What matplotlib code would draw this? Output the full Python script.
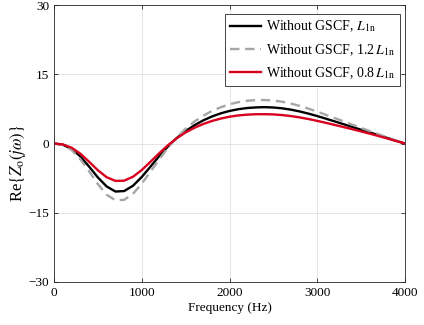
import numpy as np
from matplotlib import pyplot as plt

plt.rcParams['font.family'] = ['Liberation Serif', 'DejaVu Serif']
plt.rcParams['mathtext.fontset'] = 'stix'

# frequency grid (Hz)
freq = np.arange(0, 4001, 100)

re_L = [0, -0.25, -1.15, -2.8, -5.0, -7.35, -9.3, -10.4, -10.3, -9.15,
        -7.25, -5.0, -2.7, -0.6, 1.2, 2.7, 3.95, 5.0, 5.85, 6.53,
        7.05, 7.43, 7.68, 7.82, 7.87, 7.80, 7.62, 7.33, 6.94, 6.47,
        5.94, 5.37, 4.78, 4.18, 3.58, 2.98, 2.38, 1.78, 1.18, 0.59, 0]

re_12L = [0, -0.3, -1.4, -3.4, -6.0, -8.8, -11.1, -12.3, -12.2, -10.9,
          -8.7, -6.1, -3.4, -0.9, 1.3, 3.2, 4.75, 6.0, 7.05, 7.85,
          8.5, 8.95, 9.25, 9.4, 9.42, 9.3, 9.05, 8.65, 8.15, 7.55,
          6.9, 6.2, 5.5, 4.8, 4.08, 3.38, 2.68, 2.0, 1.32, 0.66, 0]

re_08L = [0, -0.2, -0.9, -2.2, -3.95, -5.8, -7.3, -8.1, -8.05, -7.2,
          -5.75, -3.95, -2.1, -0.35, 1.15, 2.4, 3.4, 4.22, 4.88, 5.4,
          5.8, 6.08, 6.25, 6.34, 6.35, 6.3, 6.16, 5.94, 5.65, 5.3,
          4.9, 4.47, 4.02, 3.56, 3.09, 2.61, 2.12, 1.61, 1.08, 0.54, 0]

labels = ['Without GSCF, $L_{\\rm 1n}$',
          'Without GSCF, 1.2$\\,L_{\\rm 1n}$',
          'Without GSCF, 0.8$\\,L_{\\rm 1n}$']

fig = plt.figure(figsize=(4.24, 3.25), dpi=100)
ax = fig.add_axes([54/424, 1-282/325, 351/424, 277/325])

ax.plot(freq, re_L, color='black', lw=1.7, label=labels[0])
ax.plot(freq, re_12L, color=(0.65, 0.65, 0.65), lw=1.7, ls=(0, (4, 2.4)), label=labels[1])
ax.plot(freq, re_08L, color=(0.85, 0.0, 0.12), lw=1.7, label=labels[2])

ax.set_xlim(0, 4000)
ax.set_ylim(-30, 30)
ax.set_xticks([0, 1000, 2000, 3000, 4000])
ax.set_yticks([-30, -15, 0, 15, 30])
ax.tick_params(direction='in', length=3, width=0.6, labelsize=9.5,
               top=True, right=True, colors=(0.15, 0.15, 0.15), labelcolor='black')
ax.grid(True, color=(0.88, 0.88, 0.88), lw=0.6)
for s in ax.spines.values():
    s.set_linewidth(0.6)
    s.set_color((0.15, 0.15, 0.15))

ax.set_xlabel('Frequency (Hz)', fontsize=9.5, labelpad=2)
ax.set_ylabel('Re$\\{Z_{\\rm o}(j\\omega)\\}$', fontsize=12)
ax.yaxis.set_label_coords(-0.075, 0.43)

leg = ax.legend(loc='upper right', fontsize=10, handlelength=2.3, fancybox=False,
                framealpha=1, edgecolor=(0.15, 0.15, 0.15), borderpad=0.35,
                labelspacing=0.55, handletextpad=0.35, borderaxespad=0,
                bbox_to_anchor=(0.986, 0.968))
leg.get_frame().set_linewidth(0.6)

fig.savefig('out.png', dpi=100)
